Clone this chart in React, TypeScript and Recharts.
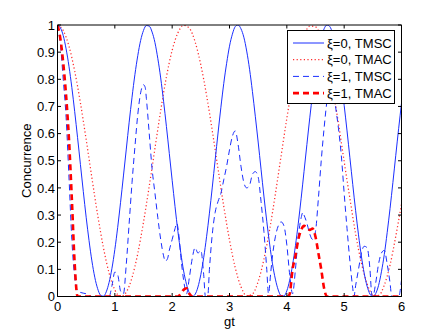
import React from 'react';
import { LineChart, Line, XAxis, YAxis, ReferenceLine, Legend } from 'recharts';

// ---- data ----
const xTicks = [0, 1, 2, 3, 4, 5, 6];
const xTickLabels = ['0', '1', '2', '3', '4', '5', '6'];
const yTicks = [0, 0.1, 0.2, 0.3, 0.4, 0.5, 0.6, 0.7, 0.8, 0.9, 1];
const yTickLabels = ['0', '0.1', '0.2', '0.3', '0.4', '0.5', '0.6', '0.7', '0.8', '0.9', '1'];

// xi=0, TMSC (solid blue)
const tmsc0T = [
  0, 0.05, 0.1, 0.15, 0.2, 0.25, 0.3, 0.35, 0.4, 0.45,
  0.5, 0.55, 0.6, 0.65, 0.7, 0.75, 0.8, 0.85, 0.9, 0.95,
  1.0, 1.05, 1.1, 1.15, 1.2, 1.25, 1.3, 1.35, 1.4, 1.45,
  1.5, 1.55, 1.6, 1.65, 1.7, 1.75, 1.8, 1.85, 1.9, 1.95,
  2.0, 2.05, 2.1, 2.15, 2.2, 2.25, 2.3, 2.35, 2.4, 2.45,
  2.5, 2.55, 2.6, 2.65, 2.7, 2.75, 2.8, 2.85, 2.9, 2.95,
  3.0, 3.05, 3.1, 3.15, 3.2, 3.25, 3.3, 3.35, 3.4, 3.45,
  3.5, 3.55, 3.6, 3.65, 3.7, 3.75, 3.8, 3.85, 3.9, 3.95,
  4.0, 4.05, 4.1, 4.15, 4.2, 4.25, 4.3, 4.35, 4.4, 4.45,
  4.5, 4.55, 4.6, 4.65, 4.7, 4.75, 4.8, 4.85, 4.9, 4.95,
  5.0, 5.05, 5.1, 5.15, 5.2, 5.25, 5.3, 5.35, 5.4, 5.45,
  5.5, 5.55, 5.6, 5.65, 5.7, 5.75, 5.8, 5.85, 5.9, 5.95,
  6.0,
];
const tmsc0V = [
  1.000, 0.990, 0.961, 0.912, 0.848, 0.770, 0.681, 0.585, 0.486, 0.387,
  0.292, 0.206, 0.131, 0.071, 0.029, 0.005, 0.001, 0.017, 0.052, 0.104,
  0.173, 0.255, 0.347, 0.444, 0.543, 0.642, 0.734, 0.817, 0.887, 0.943,
  0.980, 0.998, 0.996, 0.974, 0.935, 0.876, 0.805, 0.719, 0.626, 0.527,
  0.428, 0.331, 0.240, 0.161, 0.094, 0.045, 0.013, 0.000, 0.008, 0.035,
  0.081, 0.143, 0.220, 0.307, 0.403, 0.503, 0.602, 0.697, 0.785, 0.859,
  0.922, 0.966, 0.994, 1.000, 0.986, 0.955, 0.904, 0.837, 0.755, 0.664,
  0.569, 0.469, 0.370, 0.277, 0.193, 0.120, 0.064, 0.024, 0.003, 0.002,
  0.021, 0.060, 0.116, 0.187, 0.270, 0.362, 0.461, 0.560, 0.658, 0.748,
  0.830, 0.899, 0.951, 0.986, 1.000, 0.994, 0.968, 0.925, 0.865, 0.790,
  0.704, 0.610, 0.511, 0.412, 0.316, 0.227, 0.149, 0.085, 0.038, 0.009,
  0.000, 0.011, 0.041, 0.091, 0.155, 0.235, 0.324, 0.420, 0.520, 0.618,
  0.712,
];

// xi=0, TMAC (dotted red)
const tmac0T = [
  0, 0.1, 0.2, 0.3, 0.4, 0.5, 0.6, 0.7, 0.8, 0.9,
  1.0, 1.1, 1.2, 1.3, 1.4, 1.5, 1.6, 1.7, 1.8, 1.9,
  2.0, 2.1, 2.2, 2.3, 2.4, 2.5, 2.6, 2.7, 2.8, 2.9,
  3.0, 3.1, 3.2, 3.3, 3.4, 3.5, 3.6, 3.7, 3.8, 3.9,
  4.0, 4.1, 4.2, 4.3, 4.4, 4.5, 4.6, 4.7, 4.8, 4.9,
  5.0, 5.1, 5.2, 5.3, 5.4, 5.5, 5.6, 5.7, 5.8, 5.9,
  6.0,
];
const tmac0V = [
  1.000, 0.980, 0.922, 0.830, 0.713, 0.578, 0.437, 0.301, 0.181, 0.086,
  0.024, 0.000, 0.016, 0.070, 0.158, 0.274, 0.406, 0.546, 0.685, 0.809,
  0.907, 0.971, 0.999, 0.988, 0.938, 0.853, 0.741, 0.610, 0.470, 0.332,
  0.208, 0.106, 0.036, 0.002, 0.009, 0.055, 0.137, 0.246, 0.377, 0.518,
  0.656, 0.783, 0.887, 0.960, 0.996, 0.993, 0.951, 0.874, 0.766, 0.638,
  0.497, 0.361, 0.230, 0.124, 0.047, 0.006, 0.004, 0.042, 0.116, 0.222,
  0.340,
];

// xi=1, TMSC (dashed blue)
const tmsc1T = [
  0, 0.05, 0.1, 0.15, 0.2, 0.25, 0.3, 0.35, 0.4, 0.5, 0.6, 0.9, 0.95, 1.0, 1.05, 1.1, 1.15,
  1.2, 1.25, 1.3, 1.35, 1.4, 1.45, 1.5, 1.53, 1.55, 1.6, 1.65, 1.7, 1.75, 1.8, 1.85, 1.88,
  1.92, 1.95, 2.0, 2.05, 2.08, 2.12, 2.15, 2.2, 2.25, 2.3, 2.35, 2.4, 2.45, 2.5, 2.55, 2.58,
  2.62, 2.65, 2.7, 2.75, 2.8, 2.85, 2.9, 2.95, 3.0, 3.05, 3.1, 3.15, 3.2, 3.25, 3.3, 3.35,
  3.4, 3.45, 3.5, 3.55, 3.6, 3.65, 3.68, 3.72, 3.75, 3.8, 3.85, 3.9, 3.95, 4.0, 4.05, 4.1,
  4.15, 4.2, 4.25, 4.28, 4.3, 4.35, 4.4, 4.45, 4.5, 4.55, 4.6, 4.65, 4.7, 4.75, 4.78, 4.82,
  4.85, 4.9, 4.95, 5.0, 5.05, 5.1, 5.15, 5.17, 5.2, 5.25, 5.3, 5.35, 5.4, 5.45, 5.48, 5.5,
  5.55, 5.6, 5.65, 5.7, 5.75, 5.8, 5.83, 5.95, 6.0,
];
const tmsc1V = [
  1.00, 0.93, 0.80, 0.66, 0.44, 0.21, 0.07, 0.02, 0.015, 0.01, 0.0, 0.0, 0.04, 0.09, 0.08, 0.02, 0.01,
  0.12, 0.27, 0.42, 0.55, 0.67, 0.75, 0.78, 0.77, 0.73, 0.60, 0.47, 0.38, 0.29, 0.21, 0.15, 0.13,
  0.14, 0.17, 0.21, 0.25, 0.27, 0.22, 0.15, 0.06, 0.01, 0.07, 0.14, 0.18, 0.16, 0.17, 0.08, 0.0,
  0.0, 0.10, 0.23, 0.31, 0.35, 0.38, 0.43, 0.48, 0.54, 0.59, 0.61, 0.56, 0.48, 0.42, 0.40, 0.41,
  0.45, 0.46, 0.44, 0.35, 0.24, 0.10, 0.01, 0.09, 0.15, 0.22, 0.26, 0.275, 0.26, 0.19, 0.08, 0.01,
  0.10, 0.22, 0.29, 0.31, 0.30, 0.27, 0.23, 0.21, 0.24, 0.36, 0.50, 0.62, 0.72, 0.78, 0.79, 0.75,
  0.70, 0.62, 0.52, 0.38, 0.25, 0.13, 0.03, 0.0, 0.04, 0.10, 0.16, 0.185, 0.18, 0.10, 0.01, 0.0,
  0.05, 0.12, 0.16, 0.17, 0.12, 0.05, 0.0, 0.0, 0.06,
];

// xi=1, TMAC (thick dashed red)
const tmac1T = [
  0, 0.05, 0.1, 0.15, 0.2, 0.25, 0.3, 0.35, 2.1, 2.15, 2.2, 2.25, 2.3, 2.35,
  4.02, 4.05, 4.1, 4.15, 4.2, 4.25, 4.3, 4.35, 4.4, 4.45, 4.5, 4.55, 4.6, 4.65, 4.7, 6.0,
];
const tmac1V = [
  1.0, 0.95, 0.86, 0.74, 0.58, 0.36, 0.12, 0.0, 0.0, 0.01, 0.025, 0.03, 0.01, 0.0,
  0.0, 0.01, 0.10, 0.15, 0.21, 0.245, 0.26, 0.255, 0.245, 0.25, 0.22, 0.16, 0.10, 0.03, 0.0, 0.0,
];

const seriesNames = ['\u03BE=0, TMSC', '\u03BE=0, TMAC', '\u03BE=1, TMSC', '\u03BE=1, TMAC'];

const zip = (t: number[], v: number[]) => t.map((x, i) => ({ t: x, v: v[i] }));
const dataTmsc0 = zip(tmsc0T, tmsc0V);
const dataTmac0 = zip(tmac0T, tmac0V);
const dataTmsc1 = zip(tmsc1T, tmsc1V);
const dataTmac1 = zip(tmac1T, tmac1V);

// ---- styling ----
const FONT = '"Liberation Sans", Arial, Helvetica, sans-serif';
const FS = 13;
const W = 443;
const H = 333;
const PLOT_TOP = 25;
const PLOT_RIGHT = 401.5;
const PLOT_LEFT = 57.5;
const PLOT_BOTTOM = 296.5;
const TICK = 3.5;

const styles = [
  { color: '#1a2eff', width: 1, dash: undefined as string | undefined },
  { color: '#ff2a2a', width: 1.25, dash: '1.2 2.4' },
  { color: '#1a2eff', width: 1, dash: '6 4' },
  { color: '#ff0000', width: 2.6, dash: '6 4' },
];

const XTick = (props: any) => {
  const { x, y, payload } = props;
  const label = xTickLabels[xTicks.indexOf(payload.value)] ?? String(payload.value);
  return (
    <g>
      <line x1={x} x2={x} y1={y} y2={y - TICK} stroke="#000" strokeWidth={1} />
      <line x1={x} x2={x} y1={PLOT_TOP} y2={PLOT_TOP + TICK} stroke="#000" strokeWidth={1} />
      <text x={x} y={y + 5} dy="0.71em" textAnchor="middle" fontFamily={FONT} fontSize={FS} fill="#000">
        {label}
      </text>
    </g>
  );
};

const YTick = (props: any) => {
  const { x, y, payload } = props;
  const label = yTickLabels[yTicks.indexOf(payload.value)] ?? String(payload.value);
  return (
    <g>
      <line x1={x} x2={x + TICK} y1={y} y2={y} stroke="#000" strokeWidth={1} />
      <line x1={PLOT_RIGHT} x2={PLOT_RIGHT - TICK} y1={y} y2={y} stroke="#000" strokeWidth={1} />
      <text x={x - 2.5} y={y} dy="0.355em" textAnchor="end" fontFamily={FONT} fontSize={FS} fill="#000">
        {label}
      </text>
    </g>
  );
};

const renderLegend = () => (
  <svg width={108} height={74} style={{ display: 'block', overflow: 'visible' }}>
    <rect x={0.5} y={0.5} width={107} height={73} fill="#fff" stroke="#000" strokeWidth={1} />
    {seriesNames.map((name, i) => {
      const cy = 13 + i * 16.7;
      const s = styles[i];
      return (
        <g key={name}>
          <line x1={6} x2={37} y1={cy} y2={cy} stroke={s.color} strokeWidth={s.width} strokeDasharray={s.dash} />
          <text x={40} y={cy} dy="0.355em" fontFamily={FONT} fontSize={FS} fill="#000">
            {name}
          </text>
        </g>
      );
    })}
  </svg>
);

export default function App() {
  return (
    <div style={{ position: 'absolute', left: 0, top: 0, width: W, height: H, background: '#fff' }}>
      <LineChart
        width={W}
        height={H}
        margin={{ top: PLOT_TOP, right: W - PLOT_RIGHT, bottom: 0, left: 0 }}
      >
        <XAxis
          dataKey="t"
          type="number"
          domain={[0, 6]}
          ticks={xTicks}
          interval={0}
          height={H - PLOT_BOTTOM}
          tickSize={0}
          tickMargin={0}
          tickLine={false}
          axisLine={{ stroke: '#000', strokeWidth: 1 }}
          tick={<XTick />}
          allowDataOverflow
          label={{ value: 'gt', position: 'insideBottom', offset: 7, style: { fontFamily: FONT, fontSize: FS, fill: '#000' } }}
        />
        <YAxis
          type="number"
          domain={[0, 1]}
          ticks={yTicks}
          interval={0}
          width={PLOT_LEFT}
          tickSize={0}
          tickMargin={0}
          tickLine={false}
          axisLine={{ stroke: '#000', strokeWidth: 1 }}
          tick={<YTick />}
          allowDataOverflow
          label={{
            value: 'Concurrence',
            angle: -90,
            position: 'insideLeft',
            offset: 26,
            style: { textAnchor: 'middle', fontFamily: FONT, fontSize: FS, fill: '#000' },
          }}
        />
        <Line data={dataTmac0} dataKey="v" name={seriesNames[1]} type="monotone" stroke={styles[1].color} strokeWidth={styles[1].width} strokeDasharray={styles[1].dash} dot={false} activeDot={false} isAnimationActive={false} />
        <Line data={dataTmsc0} dataKey="v" name={seriesNames[0]} type="monotone" stroke={styles[0].color} strokeWidth={styles[0].width} dot={false} activeDot={false} isAnimationActive={false} />
        <Line data={dataTmsc1} dataKey="v" name={seriesNames[2]} type="monotone" stroke={styles[2].color} strokeWidth={styles[2].width} strokeDasharray={styles[2].dash} dot={false} activeDot={false} isAnimationActive={false} />
        <Line data={dataTmac1} dataKey="v" name={seriesNames[3]} type="monotone" stroke={styles[3].color} strokeWidth={styles[3].width} strokeDasharray={styles[3].dash} dot={false} activeDot={false} isAnimationActive={false} />
        <ReferenceLine y={1} stroke="#000" strokeWidth={1} />
        <ReferenceLine x={6} stroke="#000" strokeWidth={1} />
        <Legend
          layout="vertical"
          align="center"
          verticalAlign="middle"
          width={108}
          height={74}
          wrapperStyle={{ left: 286.5, top: 29.5, width: 108, height: 74, right: 'auto', bottom: 'auto', margin: 0 }}
          content={renderLegend}
        />
      </LineChart>
    </div>
  );
}
